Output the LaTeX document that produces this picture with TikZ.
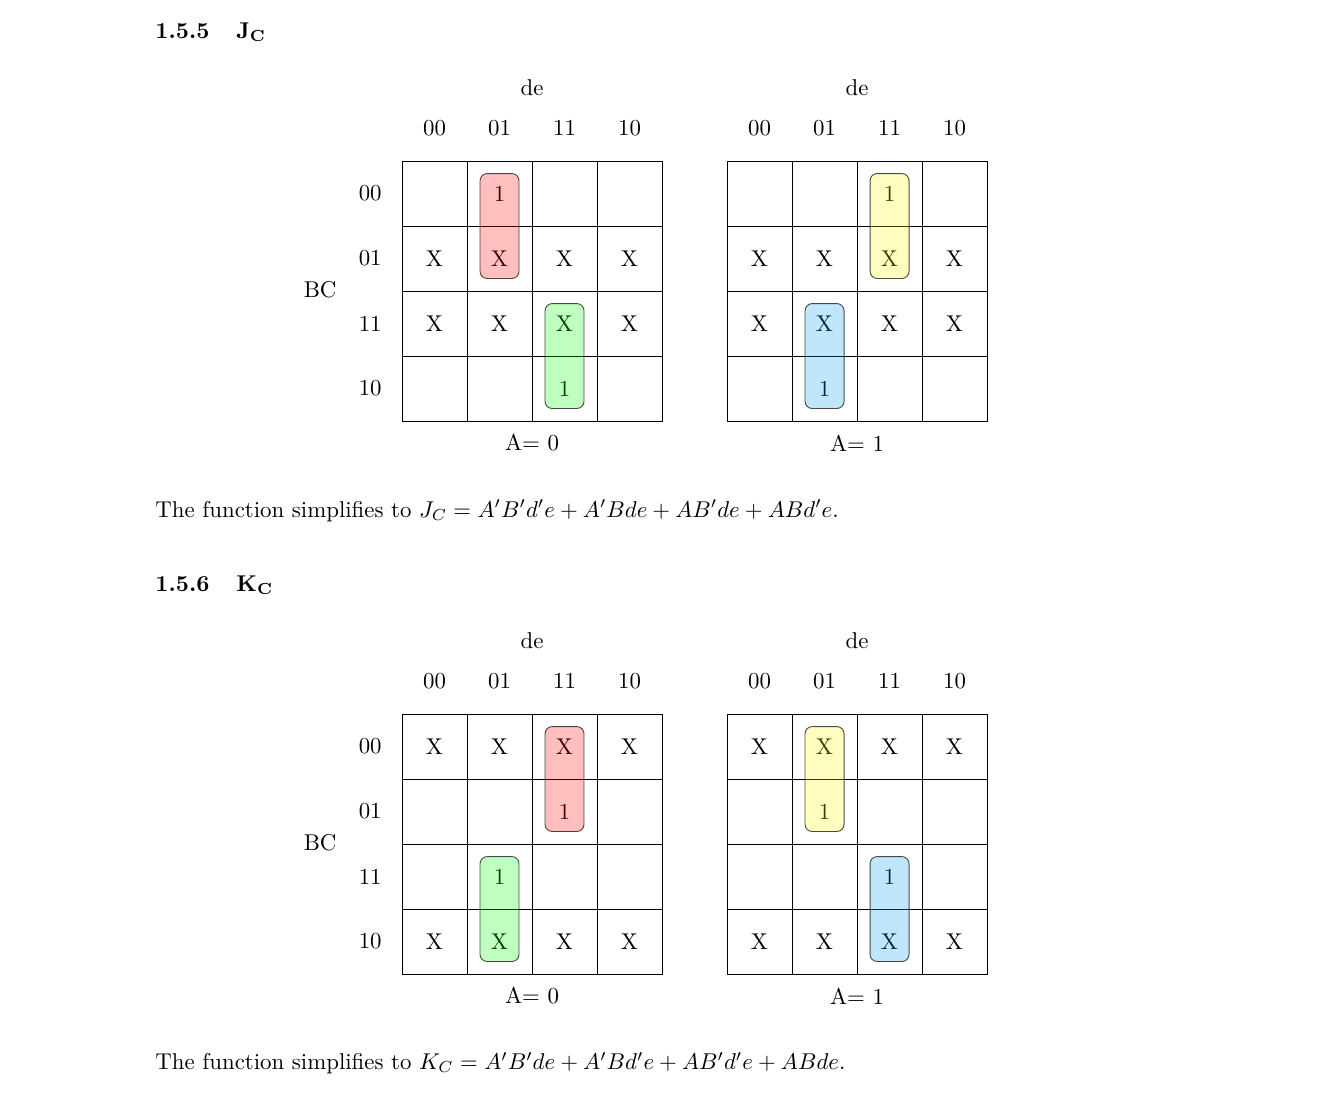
\documentclass[tikz,border=0pt]{standalone}
\usepackage{amsmath}
\usepackage{xcolor}
\usepackage{tikz}

\definecolor{kvblue}{RGB}{0,160,230}

\begin{document}
\begin{tikzpicture}[
    cell/.style={rectangle, draw, minimum size=1cm, inner sep=0pt},
    lbl/.style={rectangle, draw=none, inner sep=0pt},
    grp/.style={rounded corners=0.11cm, draw=black, draw opacity=0.7, fill opacity=0.25}
]
    \useasboundingbox (0,0) rectangle (20.646,-16.923);

    % Section J_C
    \node[lbl, anchor=base west] (jhead) at (2.385,-0.592) {\bfseries 1.5.5\hspace{11.8pt}J\textsubscript{C}};

    % J_C, A = 0
    \begin{scope}[shift={(6.185,-2.477)}]
        \node[lbl] (jl-de) at (2,1.123) {de};
        \foreach \g [count=\c] in {00,01,11,10}
            \node[lbl] (jl-col\c) at (\c-0.5,0.508) {\g};
        \foreach \g [count=\r] in {00,01,11,10}
            \node[lbl] (jl-row\r) at (-0.49,0.5-\r) {\g};
        \node[lbl] (jl-bc) at (-1.26,-1.985) {BC};
        \foreach \vals [count=\r] in {{{},1,{},{}},{X,X,X,X},{X,X,X,X},{{},{},1,{}}}
            \foreach \v [count=\c] in \vals
                \node[cell] (jl-\r\c) at (\c-0.5,0.5-\r) {\v};
        \node[lbl] (jl-a) at (2,-4.338) {A= 0};
    \end{scope}

    % J_C, A = 1
    \begin{scope}[shift={(11.185,-2.477)}]
        \node[lbl] (jr-de) at (2,1.123) {de};
        \foreach \g [count=\c] in {00,01,11,10}
            \node[lbl] (jr-col\c) at (\c-0.5,0.508) {\g};
        \foreach \vals [count=\r] in {{{},{},1,{}},{X,X,X,X},{X,X,X,X},{{},1,{},{}}}
            \foreach \v [count=\c] in \vals
                \node[cell] (jr-\r\c) at (\c-0.5,0.5-\r) {\v};
        \node[lbl] (jr-a) at (2,-4.338) {A= 1};
    \end{scope}

    % Groups for J_C
    \draw[grp, fill=red] ([xshift=-0.3cm,yshift=-0.2cm]jl-12.north) rectangle ([xshift=0.3cm,yshift=0.2cm]jl-22.south);
    \draw[grp, fill=green] ([xshift=-0.3cm,yshift=-0.2cm]jl-33.north) rectangle ([xshift=0.3cm,yshift=0.2cm]jl-43.south);
    \draw[grp, fill=yellow] ([xshift=-0.3cm,yshift=-0.2cm]jr-13.north) rectangle ([xshift=0.3cm,yshift=0.2cm]jr-23.south);
    \draw[grp, fill=kvblue] ([xshift=-0.3cm,yshift=-0.2cm]jr-32.north) rectangle ([xshift=0.3cm,yshift=0.2cm]jr-42.south);

    \node[lbl, anchor=base west] (jtext) at (2.385,-7.954)
        {The function simplifies to $J_C = A'B'd'e + A'Bde + AB'de + ABd'e$.};

    % Section K_C
    \node[lbl, anchor=base west] (khead) at (2.385,-9.1) {\bfseries 1.5.6\hspace{11.8pt}K\textsubscript{C}};

    % K_C, A = 0
    \begin{scope}[shift={(6.185,-10.985)}]
        \node[lbl] (kl-de) at (2,1.123) {de};
        \foreach \g [count=\c] in {00,01,11,10}
            \node[lbl] (kl-col\c) at (\c-0.5,0.508) {\g};
        \foreach \g [count=\r] in {00,01,11,10}
            \node[lbl] (kl-row\r) at (-0.49,0.5-\r) {\g};
        \node[lbl] (kl-bc) at (-1.26,-1.985) {BC};
        \foreach \vals [count=\r] in {{X,X,X,X},{{},{},1,{}},{{},1,{},{}},{X,X,X,X}}
            \foreach \v [count=\c] in \vals
                \node[cell] (kl-\r\c) at (\c-0.5,0.5-\r) {\v};
        \node[lbl] (kl-a) at (2,-4.338) {A= 0};
    \end{scope}

    % K_C, A = 1
    \begin{scope}[shift={(11.185,-10.985)}]
        \node[lbl] (kr-de) at (2,1.123) {de};
        \foreach \g [count=\c] in {00,01,11,10}
            \node[lbl] (kr-col\c) at (\c-0.5,0.508) {\g};
        \foreach \vals [count=\r] in {{X,X,X,X},{{},1,{},{}},{{},{},1,{}},{X,X,X,X}}
            \foreach \v [count=\c] in \vals
                \node[cell] (kr-\r\c) at (\c-0.5,0.5-\r) {\v};
        \node[lbl] (kr-a) at (2,-4.338) {A= 1};
    \end{scope}

    % Groups for K_C
    \draw[grp, fill=red] ([xshift=-0.3cm,yshift=-0.2cm]kl-13.north) rectangle ([xshift=0.3cm,yshift=0.2cm]kl-23.south);
    \draw[grp, fill=green] ([xshift=-0.3cm,yshift=-0.2cm]kl-32.north) rectangle ([xshift=0.3cm,yshift=0.2cm]kl-42.south);
    \draw[grp, fill=yellow] ([xshift=-0.3cm,yshift=-0.2cm]kr-12.north) rectangle ([xshift=0.3cm,yshift=0.2cm]kr-22.south);
    \draw[grp, fill=kvblue] ([xshift=-0.3cm,yshift=-0.2cm]kr-33.north) rectangle ([xshift=0.3cm,yshift=0.2cm]kr-43.south);

    \node[lbl, anchor=base west] (ktext) at (2.385,-16.454)
        {The function simplifies to $K_C = A'B'de + A'Bd'e + AB'd'e + ABde$.};
\end{tikzpicture}
\end{document}
